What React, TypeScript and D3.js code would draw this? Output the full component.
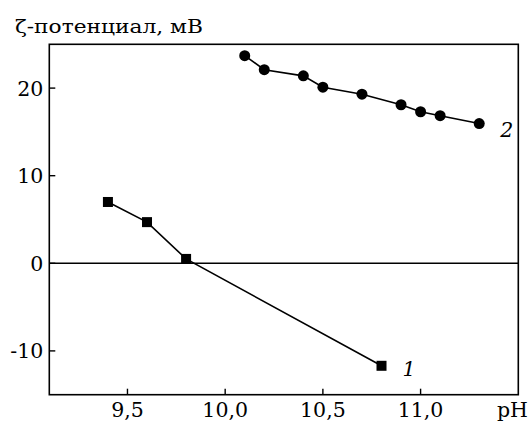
import React, { useEffect, useRef } from 'react';
import * as d3 from 'd3';

// series 1 (squares)
const phSeries1 = [9.4, 9.6, 9.8, 10.8];
const zetaSeries1 = [7.0, 4.7, 0.5, -11.7];

// series 2 (circles)
const phSeries2 = [10.1, 10.2, 10.4, 10.5, 10.7, 10.9, 11.0, 11.1, 11.3];
const zetaSeries2 = [23.7, 22.1, 21.4, 20.1, 19.3, 18.1, 17.3, 16.85, 15.95];

const xTicks = [9.5, 10.0, 10.5, 11.0];
const yTicks = [-10, 0, 10, 20];
const xDomain: [number, number] = [9.1, 11.5];
const yDomain: [number, number] = [-15, 25];

const WIDTH = 532;
const HEIGHT = 424;
const FONT = 'DejaVu Serif';

const App: React.FC = () => {
  const svgRef = useRef<SVGSVGElement | null>(null);

  useEffect(() => {
    if (!svgRef.current) return;
    const margin = { top: 44.3, right: 13.7, bottom: 29.3, left: 49.3 };
    const innerWidth = WIDTH - margin.left - margin.right;
    const innerHeight = HEIGHT - margin.top - margin.bottom;

    const svg = d3.select(svgRef.current);
    svg.selectAll('*').remove();

    const x = d3.scaleLinear().domain(xDomain).range([0, innerWidth]);
    const y = d3.scaleLinear().domain(yDomain).range([innerHeight, 0]);

    const g = svg.append('g').attr('transform', `translate(${margin.left},${margin.top})`);

    const label = (
      parent: d3.Selection<any, any, any, any>,
      tx: number,
      ty: number,
      s: string,
      size: number,
      anchor = 'start',
      italic = false
    ) =>
      parent
        .append('text')
        .attr('x', tx)
        .attr('y', ty)
        .attr('text-anchor', anchor)
        .attr('font-family', FONT)
        .attr('font-size', size)
        .attr('font-style', italic ? 'italic' : 'normal')
        .attr('fill', '#000')
        .text(s);

    // frame
    g.append('rect')
      .attr('width', innerWidth)
      .attr('height', innerHeight)
      .attr('fill', 'none')
      .attr('stroke', '#000')
      .attr('stroke-width', 1.6);

    // zero line
    g.append('line')
      .attr('x1', 0)
      .attr('x2', innerWidth)
      .attr('y1', y(0))
      .attr('y2', y(0))
      .attr('stroke', '#000')
      .attr('stroke-width', 1.4);

    // y ticks (inward)
    g.selectAll('.ytick')
      .data(yTicks)
      .join('line')
      .attr('x1', 0)
      .attr('x2', 6)
      .attr('y1', (d) => y(d))
      .attr('y2', (d) => y(d))
      .attr('stroke', '#000')
      .attr('stroke-width', 1.4);

    yTicks.forEach((d) => label(g, -6, y(d) + 7.5, String(d), 20.5, 'end'));

    // x ticks (inward)
    g.selectAll('.xtick')
      .data(xTicks)
      .join('line')
      .attr('x1', (d) => x(d))
      .attr('x2', (d) => x(d))
      .attr('y1', innerHeight)
      .attr('y2', innerHeight - 6)
      .attr('stroke', '#000')
      .attr('stroke-width', 1.4);

    xTicks.forEach((d) =>
      label(g, x(d), innerHeight + 22.5, d3.format('.1f')(d).replace('.', ','), 20.5, 'middle')
    );

    const line = d3
      .line<[number, number]>()
      .x((d) => x(d[0]))
      .y((d) => y(d[1]));

    const s1 = phSeries1.map((p, i) => [p, zetaSeries1[i]] as [number, number]);
    const s2 = phSeries2.map((p, i) => [p, zetaSeries2[i]] as [number, number]);

    g.append('path')
      .datum(s1)
      .attr('fill', 'none')
      .attr('stroke', '#000')
      .attr('stroke-width', 1.6)
      .attr('d', line);

    g.append('path')
      .datum(s2)
      .attr('fill', 'none')
      .attr('stroke', '#000')
      .attr('stroke-width', 1.6)
      .attr('d', line);

    const sq = 10;
    g.selectAll('.sq')
      .data(s1)
      .join('rect')
      .attr('x', (d) => x(d[0]) - sq / 2)
      .attr('y', (d) => y(d[1]) - sq / 2)
      .attr('width', sq)
      .attr('height', sq)
      .attr('fill', '#000');

    g.selectAll('.dot')
      .data(s2)
      .join('circle')
      .attr('cx', (d) => x(d[0]))
      .attr('cy', (d) => y(d[1]))
      .attr('r', 5.5)
      .attr('fill', '#000');

    // series labels
    const last1 = s1[s1.length - 1];
    const last2 = s2[s2.length - 1];
    label(g, x(last1[0]) + 21, y(last1[1]) + 10, '1', 20.5, 'start', true);
    label(g, x(last2[0]) + 21, y(last2[1]) + 13, '2', 20.5, 'start', true);

    // axis titles
    label(svg, 15, 33, 'ζ-потенциал, мВ', 19)
      .attr('textLength', 188)
      .attr('lengthAdjust', 'spacingAndGlyphs');
    label(svg, 497, 417, 'pH', 20.5);
  }, []);

  return (
    <svg
      ref={svgRef}
      width={WIDTH}
      height={HEIGHT}
      style={{ position: 'absolute', left: 0, top: 0, background: '#fff' }}
    />
  );
};

export default App;
